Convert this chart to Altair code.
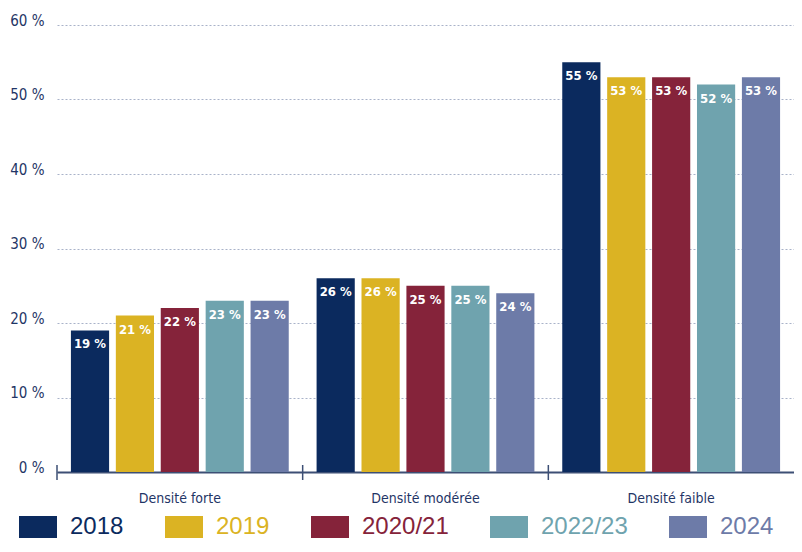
import altair as alt
import pandas as pd

categories = ["Densité forte", "Densité modérée", "Densité faible"]
series = ["2018", "2019", "2020/21", "2022/23", "2024"]
colors = ["#0b2a5e", "#dbb323", "#85233a", "#6fa3ae", "#6d7ba8"]
values = {
    "2018": [19, 26, 55],
    "2019": [21, 26, 53],
    "2020/21": [22, 25, 53],
    "2022/23": [23, 25, 52],
    "2024": [23, 24, 53],
}

rows = []
for s in series:
    for c, v in zip(categories, values[s]):
        rows.append({"cat": c, "serie": s, "v": v})
df = pd.DataFrame(rows)

NAVY = "#1f3566"
FONT = "'DejaVu Sans Condensed', Roboto, sans-serif"
PLOT_H = 447

color_expr = "".join(
    f"datum.value == '{s}' ? '{c}' : " for s, c in zip(series, colors)
) + f"'{NAVY}'"

x = alt.X("cat:N", sort=categories, title=None,
          scale=alt.Scale(paddingInner=0, paddingOuter=0),
          axis=alt.Axis(labelFont=FONT, labelFontSize=14, labelColor=NAVY,
                        labelPadding=19, ticks=False, domainColor="#3d4f75",
                        domainWidth=2, labelAngle=0))
xo = alt.XOffset("serie:N", sort=series,
                 scale=alt.Scale(paddingInner=0.15, paddingOuter=0.31))
y = alt.Y("v:Q", title=None,
          scale=alt.Scale(domain=[0, 60], nice=False),
          axis=alt.Axis(values=[0, 10, 20, 30, 40, 50, 60],
                        labelExpr="datum.value + ' %'",
                        labelFont=FONT, labelFontSize=15, labelColor=NAVY,
                        labelBaseline="alphabetic",
                        labelPadding=13, domain=False, ticks=False,
                        grid=True, gridColor="#a9b2c9", gridDash=[2, 2],
                        gridWidth=1))

legend = alt.Legend(
    title=None, orient="none", legendX=-38, legendY=483,
    direction="horizontal",
    symbolType="M-1,-0.5789H1V0.5789H-1Z", symbolSize=1444,
    symbolStrokeWidth=0, symbolOpacity=1,
    labelFont="Liberation Sans", labelFontSize=24, labelOffset=13,
    columnPadding=41, padding=0,
    labelColor=alt.ExprRef(expr=color_expr),
)

bars = alt.Chart(df).mark_bar().encode(
    x=x, xOffset=xo, y=y,
    color=alt.Color("serie:N", sort=series,
                    scale=alt.Scale(domain=series, range=colors),
                    legend=legend),
)

labels = alt.Chart(df).mark_text(
    baseline="middle", dy=14, color="white", fontWeight="bold",
    fontSize=13, font=FONT,
).encode(
    x=alt.X("cat:N", sort=categories), xOffset=xo, y="v:Q",
    text=alt.Text("label:N"),
).transform_calculate(label="datum.v + ' %'")

ticks = alt.Chart(pd.DataFrame({"cat": categories})).mark_rule(
    color="#3d4f75", strokeWidth=1.5
).encode(
    x=alt.X("cat:N", sort=categories, bandPosition=0),
    y=alt.value(PLOT_H - 7), y2=alt.value(PLOT_H + 8),
)

chart = alt.layer(bars, labels, ticks).properties(
    width=737, height=PLOT_H,
    autosize=alt.AutoSizeParams(type="none"),
    padding={"left": 49, "top": 17, "right": 0, "bottom": 66},
).configure_view(stroke=None)

chart.save("out.html", embed_options={"renderer": "svg", "actions": False})
